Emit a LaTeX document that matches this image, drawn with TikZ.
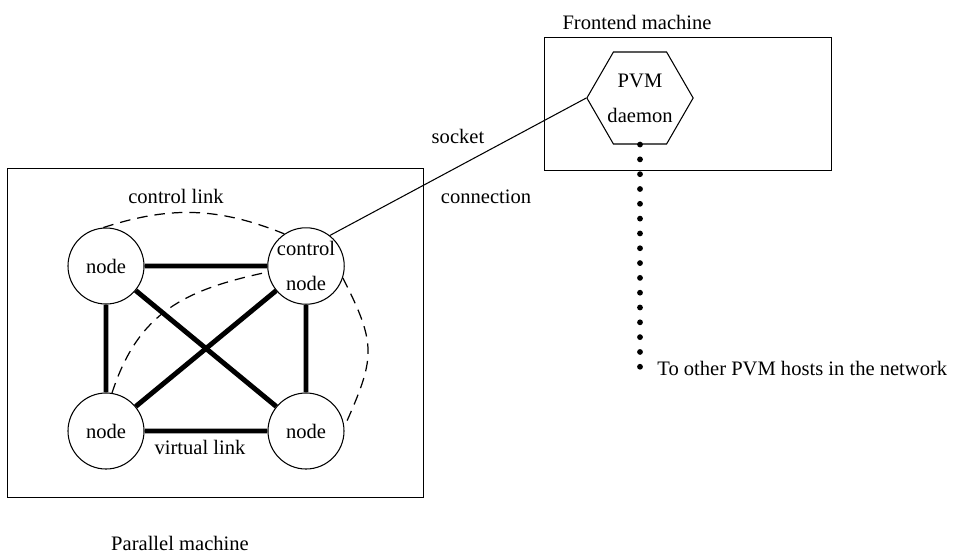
\documentclass[tikz,border=0pt]{standalone}
\usepackage{fontspec}
\setmainfont{Liberation Serif}
\usetikzlibrary{shapes.geometric}
\tikzset{
    vnode/.style={circle, draw, line width=0.6pt, minimum size=1.52cm, inner sep=0pt, align=center},
    vlink/.style={line width=2.8pt},
    ctllink/.style={dash pattern=on 6pt off 4pt, line width=0.7pt},
    machine/.style={draw, line width=0.45pt},
}
\begin{document}
\begin{tikzpicture}[font=\fontsize{11.7}{14}\selectfont]
        \useasboundingbox (0,0) rectangle (19.18,11.10);
        \draw[machine] (0.14,1.16) rectangle (8.46,7.74);
        \draw[machine] (10.88,7.70) rectangle (16.62,10.36);
        \node (frontend) at (12.74,10.66) {Frontend machine};
        \node (parallel) at (3.60,0.24) {Parallel machine};
        \node[vnode] (tl) at (2.12,5.78) {node};
        \node[vnode] (ctrl) at (6.12,5.78) {control\\[6pt]node};
        \node[vnode] (bl) at (2.12,2.48) {node};
        \node[vnode] (br) at (6.12,2.48) {node};
        \node[regular polygon, regular polygon sides=6, draw, line width=0.6pt, minimum size=2.02cm, inner sep=0pt, align=center] (pvm) at (12.80,9.14) {PVM\\[6pt]daemon};
        \coordinate (netend) at (12.80,3.50);
        \draw[vlink] (tl) -- (ctrl) -- (br) -- (bl) -- (tl) -- (br);
        \draw[vlink] (bl) -- (ctrl);
        \draw[ctllink] (tl.94) to[bend left=20] (ctrl.124);
        \draw[ctllink] (bl.81) to[out=72, in=192, looseness=1.1] (ctrl.189);
        \draw[ctllink] (ctrl.-18) to[out=-63, in=66, looseness=1.3] (br.6);
        \draw[line width=0.6pt] (ctrl.52) -- (pvm.west);
        \draw[line width=3.3pt, line cap=round, dash pattern=on 0pt off 8.43pt] (pvm.south) -- (netend);
        \node[anchor=west, inner sep=0pt] (hosts) at (13.14,3.72) {To other PVM hosts in the network};
        \node (socket) at (9.16,8.38) {socket};
        \node (conn) at (9.72,7.16) {connection};
        \node (ctltext) at (3.52,7.18) {control link};
        \node (virt) at (4.00,2.16) {virtual link};
\end{tikzpicture}
\end{document}
